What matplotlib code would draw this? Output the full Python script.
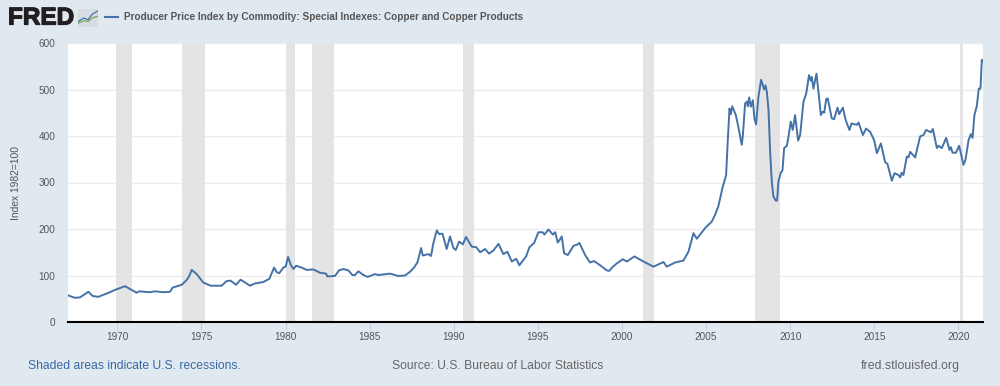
import matplotlib
matplotlib.use("Agg")
import matplotlib.pyplot as plt
import matplotlib.patheffects as pe
from matplotlib.lines import Line2D

plt.rcParams['font.family'] = ['Liberation Sans', 'DejaVu Sans']

years = [1967.0, 1967.38, 1967.68, 1967.98, 1968.18, 1968.43, 1968.77, 1968.97, 1969.46, 1969.76,
         1970.06, 1970.36, 1970.75, 1971.05, 1971.21, 1971.84, 1972.14, 1972.64, 1973.03, 1973.19,
         1973.73, 1974.02, 1974.18, 1974.32, 1974.62, 1975.01, 1975.45, 1976.1, 1976.4, 1976.64,
         1976.96, 1977.23, 1977.79, 1978.09, 1978.58, 1978.94, 1979.22, 1979.38, 1979.53, 1979.77,
         1979.91, 1980.05, 1980.21, 1980.37, 1980.53, 1980.86, 1981.16, 1981.56, 1981.95, 1982.31,
         1982.39, 1982.84, 1983.08, 1983.34, 1983.64, 1983.87, 1984.03, 1984.23, 1984.53, 1984.79,
         1985.22, 1985.42, 1986.12, 1986.61, 1987.01, 1987.3, 1987.54, 1987.74, 1987.96, 1988.06,
         1988.39, 1988.55, 1988.69, 1988.89, 1989.03, 1989.23, 1989.48, 1989.68, 1989.88, 1990.02,
         1990.22, 1990.44, 1990.63, 1990.97, 1991.23, 1991.47, 1991.76, 1992.0, 1992.26, 1992.56,
         1992.85, 1993.09, 1993.35, 1993.61, 1993.8, 1994.2, 1994.4, 1994.68, 1994.93, 1995.19,
         1995.29, 1995.53, 1995.79, 1995.93, 1996.08, 1996.22, 1996.32, 1996.46, 1996.68, 1997.02,
         1997.21, 1997.37, 1997.71, 1998.0, 1998.24, 1998.6, 1999.0, 1999.15, 1999.31, 1999.59,
         1999.95, 2000.19, 2000.64, 2001.18, 2001.77, 2002.37, 2002.56, 2003.06, 2003.55, 2003.85,
         2004.15, 2004.35, 2004.54, 2004.84, 2005.24, 2005.44, 2005.63, 2005.87, 2006.09, 2006.19,
         2006.29, 2006.37, 2006.45, 2006.67, 2006.82, 2007.02, 2007.08, 2007.22, 2007.32, 2007.38,
         2007.46, 2007.56, 2007.68, 2007.77, 2007.87, 2008.01, 2008.17, 2008.35, 2008.43, 2008.51,
         2008.61, 2008.71, 2008.81, 2008.9, 2009.04, 2009.12, 2009.2, 2009.34, 2009.44, 2009.54,
         2009.7, 2009.8, 2009.93, 2010.05, 2010.19, 2010.37, 2010.49, 2010.69, 2010.85, 2011.02,
         2011.12, 2011.18, 2011.28, 2011.46, 2011.58, 2011.72, 2011.82, 2011.92, 2012.04, 2012.13,
         2012.37, 2012.51, 2012.71, 2012.81, 2013.03, 2013.2, 2013.42, 2013.54, 2013.86, 2013.96,
         2014.22, 2014.41, 2014.65, 2014.89, 2015.05, 2015.29, 2015.54, 2015.68, 2015.94, 2016.1,
         2016.34, 2016.43, 2016.53, 2016.63, 2016.83, 2016.93, 2017.03, 2017.33, 2017.62, 2017.82,
         2017.98, 2018.26, 2018.38, 2018.62, 2018.71, 2018.91, 2019.17, 2019.37, 2019.45, 2019.55,
         2019.75, 2019.94, 2020.2, 2020.32, 2020.5, 2020.64, 2020.74, 2020.85, 2020.99, 2021.11,
         2021.21, 2021.29, 2021.35]
ppi = [57, 52, 53, 60, 65, 56, 54, 57, 64, 69,
       73, 77, 69, 63, 66, 64, 66, 64, 65, 74,
       80, 90, 99, 112, 103, 85, 78, 78, 88, 89,
       80, 91, 78, 83, 86, 93, 117, 107, 105, 117,
       119, 140, 123, 114, 121, 117, 112, 113, 106, 104,
       98, 99, 111, 114, 111, 101, 101, 109, 101, 97,
       103, 101, 104, 99, 100, 108, 117, 128, 159, 143,
       146, 142, 170, 197, 189, 190, 157, 184, 159, 155,
       173, 167, 183, 162, 161, 150, 157, 147, 154, 168,
       146, 151, 130, 136, 122, 141, 161, 170, 193, 193,
       188, 199, 188, 193, 171, 178, 184, 148, 144, 164,
       166, 170, 144, 128, 131, 122, 111, 110, 117, 126,
       135, 130, 141, 130, 119, 129, 119, 128, 132, 151,
       191, 179, 188, 202, 216, 231, 249, 288, 316, 391,
       459, 447, 464, 445, 419, 381, 399, 470, 474, 464,
       483, 463, 477, 438, 425, 484, 521, 500, 509, 495,
       456, 363, 299, 270, 261, 261, 302, 321, 326, 374,
       379, 399, 431, 413, 445, 390, 402, 474, 491, 531,
       519, 527, 502, 534, 495, 445, 452, 450, 479, 481,
       438, 436, 461, 447, 461, 434, 413, 427, 424, 429,
       402, 416, 409, 391, 363, 384, 344, 340, 304, 320,
       316, 311, 321, 316, 356, 354, 366, 354, 399, 402,
       413, 408, 415, 374, 379, 374, 396, 370, 376, 364,
       364, 379, 338, 349, 391, 404, 396, 445, 464, 502,
       502, 564, 561]

rec_start = [1969.95, 1973.87, 1980.05, 1981.55, 1990.55, 2001.25, 2007.92, 2020.08]
rec_end = [1970.85, 1975.2, 1980.55, 1982.88, 1991.2, 2001.92, 2009.42, 2020.25]

x_ticks = [1970, 1975, 1980, 1985, 1990, 1995, 2000, 2005, 2010, 2015, 2020]
y_ticks = [0, 100, 200, 300, 400, 500, 600]

W, H = 1000, 386
bg = '#e1e9f0'
blue = '#4572a7'

fig = plt.figure(figsize=(10, 3.86), dpi=100, facecolor=bg)
ax = fig.add_axes([68 / W, 1 - 322 / H, 915 / W, 279 / H])

for s, e in zip(rec_start, rec_end):
    ax.axvspan(s, e, color='#e4e4e4', lw=0, zorder=1)

# years were read against a tick grid 0.1 yr off
ax.plot([y + 0.1 for y in years], ppi, color=blue, lw=1.4, zorder=3, solid_joinstyle='round')

ax.set_xlim(1967.07, 2021.46)
ax.set_ylim(0, 600)
ax.set_xticks(x_ticks)
ax.set_yticks(y_ticks)
ax.grid(axis='y', color='#ececec', lw=1)
ax.set_axisbelow(True)
ax.tick_params(axis='x', length=6, width=0.8, color='#c0d0e0', labelsize=7.2, labelcolor='#555555', pad=1)
ax.tick_params(axis='y', length=0, labelsize=7.2, labelcolor='#555555', pad=9)
for side in ['top', 'left', 'right']:
    ax.spines[side].set_visible(False)
ax.spines['bottom'].set_color('black')
ax.spines['bottom'].set_linewidth(1.5)
ax.set_ylabel('Index 1982=100', fontsize=7.4, color='#555555')
ax.yaxis.set_label_coords((21 - 68) / 915, 0.5)

# header
fig.text(8 / W, 1 - 18 / H, 'FRED', fontsize=17.5, fontweight='bold', color='#231f20', va='center', ha='left',
         path_effects=[pe.withStroke(linewidth=0.9, foreground='#231f20')])
icon = fig.add_axes([78 / W, 1 - 27 / H, 20 / W, 18 / H])
icon.set_facecolor('#d5dde2')
icon.set_xticks([])
icon.set_yticks([])
for sp in icon.spines.values():
    sp.set_visible(False)
icon.plot([0, 3, 5, 7, 10], [2, 3.5, 3, 5, 6], color='#7fa650', lw=0.9)
icon.plot([0, 3, 5, 7, 10], [3, 5, 4, 7, 9], color=blue, lw=0.9)
icon.set_xlim(0, 10)
icon.set_ylim(0, 10)

fig.add_artist(Line2D([105 / W, 118 / W], [1 - 17 / H, 1 - 17 / H], color=blue, lw=1.5))
fig.text(123.5 / W, 1 - 17 / H, 'Producer Price Index by Commodity: Special Indexes: Copper and Copper Products',
         fontsize=7.2, fontweight='bold', color='#555555', va='center', ha='left')

# footer
fig.text(28 / W, 1 - 366 / H, 'Shaded areas indicate U.S. recessions.', fontsize=8.75, color='#3a68a5', va='center')
fig.text(392 / W, 1 - 366 / H, 'Source: U.S. Bureau of Labor Statistics', fontsize=8.75, color='#666666', va='center')
fig.text(861 / W, 1 - 366 / H, 'fred.stlouisfed.org', fontsize=8.9, color='#666666', va='center')

fig.savefig('out.png', dpi=100, facecolor=bg)
